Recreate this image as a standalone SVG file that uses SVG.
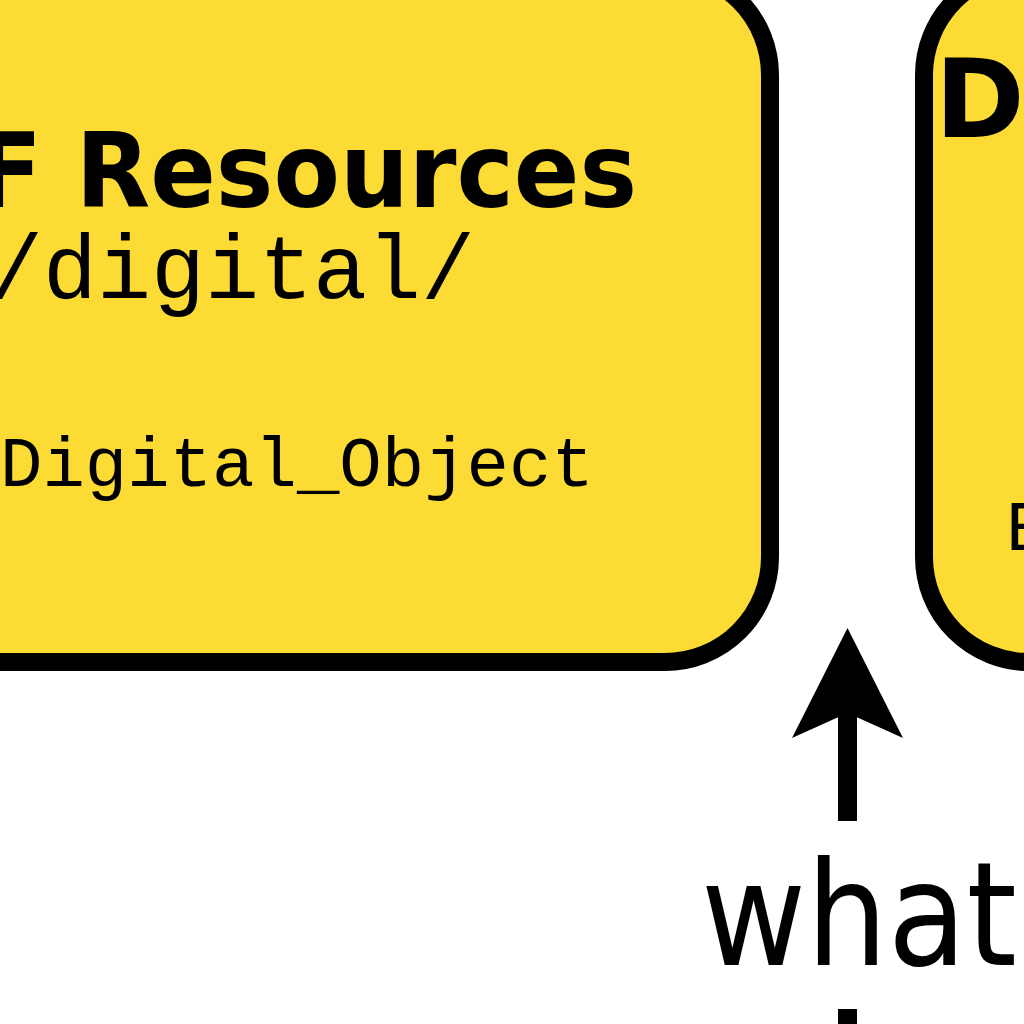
<svg xmlns="http://www.w3.org/2000/svg" width="1024" height="1024" viewBox="0 0 1024 1024">
  <style>
    .box { fill: #FCDC34; stroke: #000; stroke-width: 18; }
    .title { font-family: "DejaVu Sans", Verdana, sans-serif; font-weight: bold; fill: #000; }
    .mono { font-family: "Liberation Mono", "Courier New", monospace; fill: #000; }
    .label { font-family: "DejaVu Sans", Tahoma, sans-serif; fill: #000; }
    .shaft { stroke: #000; stroke-width: 19; fill: none; }
  </style>
  <rect width="1024" height="1024" fill="#fff"/>
  <g id="node-resources">
    <rect class="box" x="-400" y="-30" width="1170" height="692" rx="105" ry="105"/>
    <text class="title" x="-24" y="207" font-size="103" textLength="661" lengthAdjust="spacingAndGlyphs">F Resources</text>
    <text class="mono" x="-11" y="298" font-size="90">/digital/</text>
    <text class="mono" x="0" y="486" font-size="70.7">Digital_Object</text>
  </g>
  <g id="node-right">
    <rect class="box" x="924" y="-30" width="600" height="692" rx="105" ry="105"/>
    <text class="title" x="935" y="137" font-size="108">DI</text>
    <text class="mono" x="1006" y="550" font-size="70.7">E</text>
  </g>
  <g id="connectors">
    <line class="shaft" x1="847.5" y1="821" x2="847.5" y2="712"/>
    <polygon points="847.5,628 903,738 847.5,713 792,738" fill="#000"/>
    <line class="shaft" x1="847.5" y1="1009" x2="847.5" y2="1030"/>
    <text class="label" x="701" y="965" font-size="145" textLength="316" lengthAdjust="spacingAndGlyphs">what</text>
  </g>
</svg>
